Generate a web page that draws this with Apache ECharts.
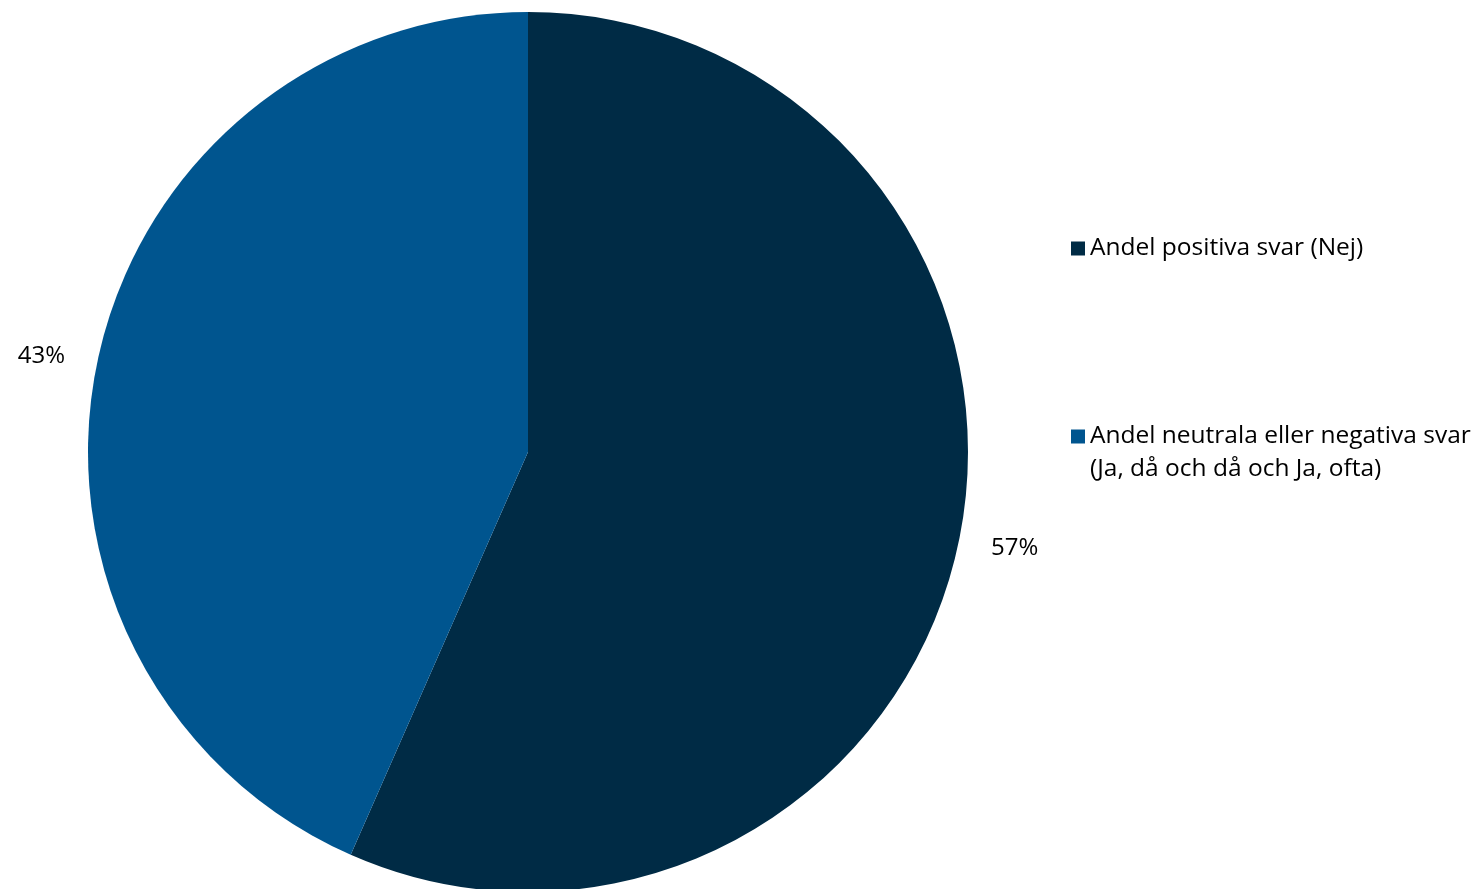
<!DOCTYPE html>
<html>
<head>
<meta charset="utf-8">
<script src="https://cdn.jsdelivr.net/npm/echarts@6/dist/echarts.min.js"></script>
<style>html,body{margin:0;padding:0;background:#fff}#c{width:1481px;height:889px}</style>
</head>
<body>
<div id="c"></div>
<script>
const categories = ['Andel positiva svar (Nej)', 'Andel neutrala eller negativa svar (Ja, då och då och Ja, ofta)'];
const legendLabels = ['Andel positiva svar (Nej)', 'Andel neutrala eller negativa svar\n(Ja, då och då och Ja, ofta)'];
const values = [56.6, 43.4];
const colors = ['#002B45', '#00558F'];

const FONT = '"Open Sans", sans-serif';
const LH = 33;
// Pad multi-line legend text with empty lines on top so the icon lines up with the first line
function legendText(name) {
  const lines = legendLabels[categories.indexOf(name)].split('\n');
  return '\n'.repeat(lines.length - 1) + lines.join('\n');
}
const chart = echarts.init(document.getElementById('c'), null, {renderer: 'canvas'});
chart.setOption({
  animation: false,
  backgroundColor: '#fff',
  legend: {
    orient: 'vertical',
    left: 1071,
    top: 232,
    padding: 0,
    itemWidth: 14,
    itemHeight: 14,
    itemGap: 122,
    icon: 'rect',
    data: categories,
    formatter: legendText,
    textStyle: { fontFamily: FONT, fontSize: 24.5, color: '#000', lineHeight: LH }
  },
  series: [{
    type: 'pie',
    center: [528, 452],
    radius: [0, 440],
    startAngle: 90,
    clockwise: true,
    silent: true,
    data: categories.map((c, i) => ({ name: c, value: values[i], itemStyle: { color: colors[i] } })),
    label: {
      show: true,
      position: 'outside',
      formatter: p => Math.round(p.value) + '%',
      fontFamily: FONT,
      fontSize: 24,
      color: '#000'
    },
    labelLine: { show: false, length: 28, length2: 0 }
  }]
});
</script>
</body>
</html>
